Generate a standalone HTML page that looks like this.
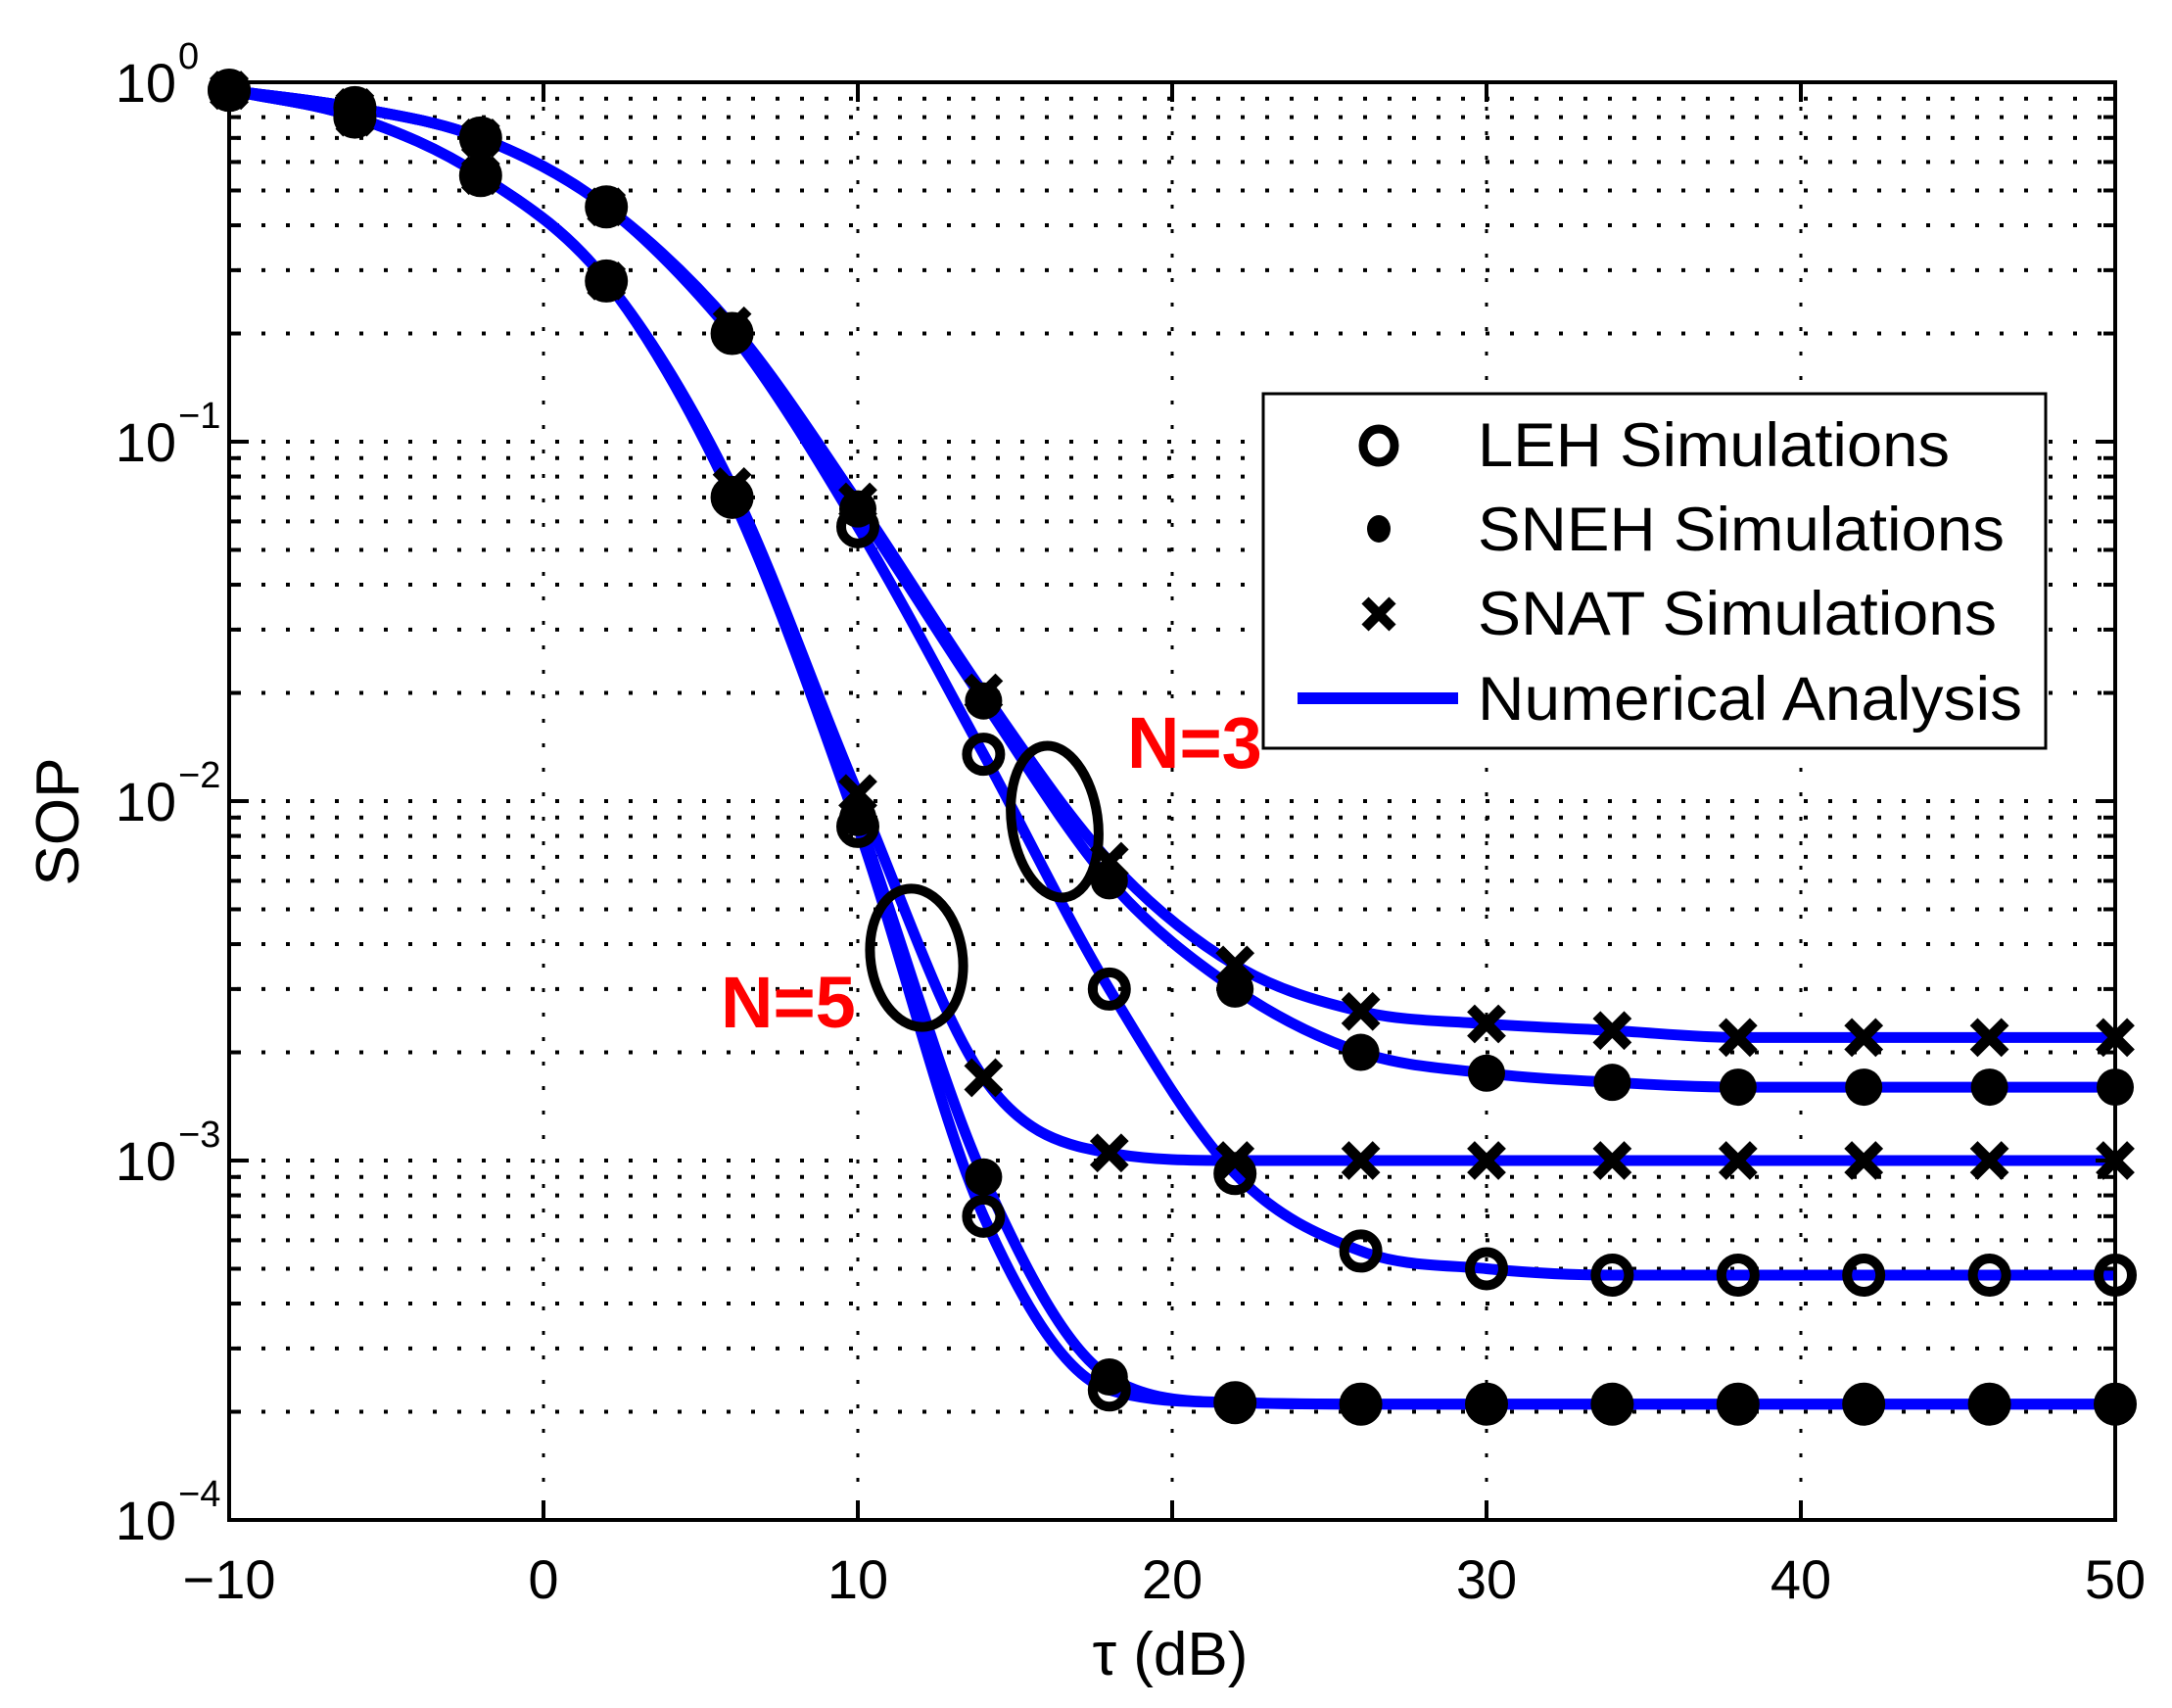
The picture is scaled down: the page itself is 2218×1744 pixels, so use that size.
<!DOCTYPE html>
<html><head><meta charset="utf-8"><style>
html,body{margin:0;padding:0;background:#fff;}
svg{display:block;font-family:"Liberation Sans",sans-serif;}
</style></head><body>
<svg id="s" width="2218" height="1744" viewBox="0 0 2218 1744" xmlns="http://www.w3.org/2000/svg">
<rect width="2218" height="1744" fill="#fff"/>
<g id="grid"></g>
<g id="lines" fill="none" stroke="#0000ff" stroke-width="11" stroke-linejoin="round"></g>
<g id="marks"></g>
<rect x="234" y="84" width="1926" height="1468" fill="none" stroke="#000" stroke-width="4"/>
<g id="ticks"></g>
<ellipse cx="1077" cy="839" rx="44" ry="78" transform="rotate(-8 1077 839)" fill="none" stroke="#000" stroke-width="10"/>
<ellipse cx="936" cy="978" rx="47" ry="71" transform="rotate(-8 936 978)" fill="none" stroke="#000" stroke-width="10"/>
<text x="1151" y="784" font-size="74" font-weight="bold" fill="#ff0000">N=3</text>
<text x="736" y="1049" font-size="74" font-weight="bold" fill="#ff0000">N=5</text>
<rect x="1290" y="402" width="799" height="362" fill="#fff" stroke="#000" stroke-width="3"/>
<g font-size="63" fill="#000">
<text x="1509" y="476" textLength="482" lengthAdjust="spacingAndGlyphs">LEH Simulations</text>
<text x="1509" y="562" textLength="538" lengthAdjust="spacingAndGlyphs">SNEH Simulations</text>
<text x="1509" y="648" textLength="530" lengthAdjust="spacingAndGlyphs">SNAT Simulations</text>
<text x="1509" y="735" textLength="556" lengthAdjust="spacingAndGlyphs">Numerical Analysis</text>
</g>
<ellipse cx="1408" cy="455" rx="16" ry="17" fill="none" stroke="#000" stroke-width="9"/>
<ellipse cx="1408" cy="540" rx="12" ry="14" fill="#000"/>
<path d="M1394 613 L1422 641 M1422 613 L1394 641" stroke="#000" stroke-width="10"/>
<line x1="1325" y1="713" x2="1489" y2="713" stroke="#0000ff" stroke-width="12"/>
<text x="1195" y="1710" font-size="62" text-anchor="middle">τ (dB)</text>
<text transform="translate(80 839) rotate(-90)" font-size="62" text-anchor="middle">SOP</text>
</svg>
<script>
const NS="http://www.w3.org/2000/svg";
const L=234,R=2160,T=84,B=1552;
const X=x=>L+(x+10)*(R-L)/60;
const Y=v=>T+(-Math.log10(v))*(B-T)/4;
function el(tag,attrs,parent){const e=document.createElementNS(NS,tag);for(const k in attrs)e.setAttribute(k,attrs[k]);if(parent)parent.appendChild(e);return e;}
const grid=document.getElementById('grid'),ticks=document.getElementById('ticks');
for(let x=0;x<=40;x+=10){el('line',{x1:X(x),y1:T,x2:X(x),y2:B,stroke:'#000','stroke-width':3,'stroke-dasharray':'4 21'},grid);}
for(let d=0;d<4;d++){for(let m=1;m<=9;m++){const v=m*Math.pow(10,-(d+1));const y=Y(v);if(m==1&&d==3)continue;
 el('line',{x1:L,y1:y,x2:R,y2:y,stroke:'#000','stroke-width':4,'stroke-dasharray':'4 21','stroke-dashoffset':'-8'},grid);
 const len=m==1?20:12;
 el('line',{x1:L,y1:y,x2:L+len,y2:y,stroke:'#000','stroke-width':4},ticks);
 el('line',{x1:R,y1:y,x2:R-len,y2:y,stroke:'#000','stroke-width':4},ticks);}}
for(let x=-10;x<=50;x+=10){el('line',{x1:X(x),y1:B,x2:X(x),y2:B-20,stroke:'#000','stroke-width':4},ticks);
 el('line',{x1:X(x),y1:T,x2:X(x),y2:T+20,stroke:'#000','stroke-width':4},ticks);
 const t=el('text',{x:X(x),y:1632,'font-size':56,'text-anchor':'middle'},ticks);t.textContent=(x<0?'\u2212'+(-x):x);}
for(let d=0;d<=4;d++){const y=T+d*(B-T)/4;
 const t=el('text',{x:180,y:y+20,'font-size':56,'text-anchor':'end'},ticks);t.textContent='10';
 const s=el('text',{x:182,y:y-14,'font-size':38,'text-anchor':'start'},ticks);s.textContent=d==0?'0':'\u2212'+d;}
const xs=[];for(let x=-10;x<=50;x+=4)xs.push(x);
const fl=(a,n)=>a.concat(Array(16-a.length).fill(n));
const D={
n3L:fl([0.95,0.85,0.70,0.45,0.20,0.058,0.0135,0.003,0.00092,0.00056,0.0005,0.00048],0.00048),
n3S:fl([0.95,0.85,0.70,0.45,0.20,0.065,0.019,0.006,0.0030,0.0020,0.00175,0.00165],0.0016),
n3T:fl([0.95,0.85,0.70,0.45,0.21,0.068,0.020,0.0068,0.0035,0.0026,0.0024,0.0023],0.0022),
n5L:fl([0.95,0.80,0.55,0.28,0.07,0.0085,0.0007,0.00023,0.000212],0.00021),
n5S:fl([0.95,0.80,0.55,0.28,0.07,0.009,0.0009,0.00025,0.000212],0.00021),
n5T:fl([0.95,0.80,0.55,0.28,0.075,0.0105,0.0017,0.00105,0.001],0.001)};
const lines=document.getElementById('lines'),marks=document.getElementById('marks');
function path(vals){const p=vals.map((v,i)=>[X(xs[i]),Y(v)]);const n=p.length;
 const h=[],dl=[];for(let i=0;i<n-1;i++){h.push(p[i+1][0]-p[i][0]);dl.push((p[i+1][1]-p[i][1])/h[i]);}
 const m=[dl[0]];for(let i=1;i<n-1;i++){m.push(dl[i-1]*dl[i]<=0?0:(dl[i-1]+dl[i])/2);}m.push(dl[n-2]);
 for(let i=0;i<n-1;i++){if(dl[i]==0){m[i]=0;m[i+1]=0;continue;}const a=m[i]/dl[i],b=m[i+1]/dl[i],s=a*a+b*b;if(s>9){const t=3/Math.sqrt(s);m[i]=t*a*dl[i];m[i+1]=t*b*dl[i];}}
 let d='M'+p[0][0]+' '+p[0][1];
 for(let i=0;i<n-1;i++){const c1=[p[i][0]+h[i]/3,p[i][1]+m[i]*h[i]/3],c2=[p[i+1][0]-h[i]/3,p[i+1][1]-m[i+1]*h[i]/3];
  d+=` C${c1[0]} ${c1[1]} ${c2[0]} ${c2[1]} ${p[i+1][0]} ${p[i+1][1]}`;}return d;}
for(const k in D)el('path',{d:path(D[k])},lines);
function circ(x,y){el('circle',{cx:x,cy:y,r:17,fill:'none',stroke:'#000','stroke-width':10},marks);}
function dot(x,y){el('circle',{cx:x,cy:y,r:19,fill:'#000'},marks);}
function cross(x,y){el('path',{d:`M${x-16} ${y-16}L${x+16} ${y+16}M${x+16} ${y-16}L${x-16} ${y+16}`,stroke:'#000','stroke-width':11},marks);}
for(const k in D){D[k].forEach((v,i)=>{const x=X(xs[i]),y=Y(v);
 if(k.endsWith('L'))circ(x,y);else if(k.endsWith('S'))dot(x,y);else cross(x,y);});}
</script>
</body></html>
